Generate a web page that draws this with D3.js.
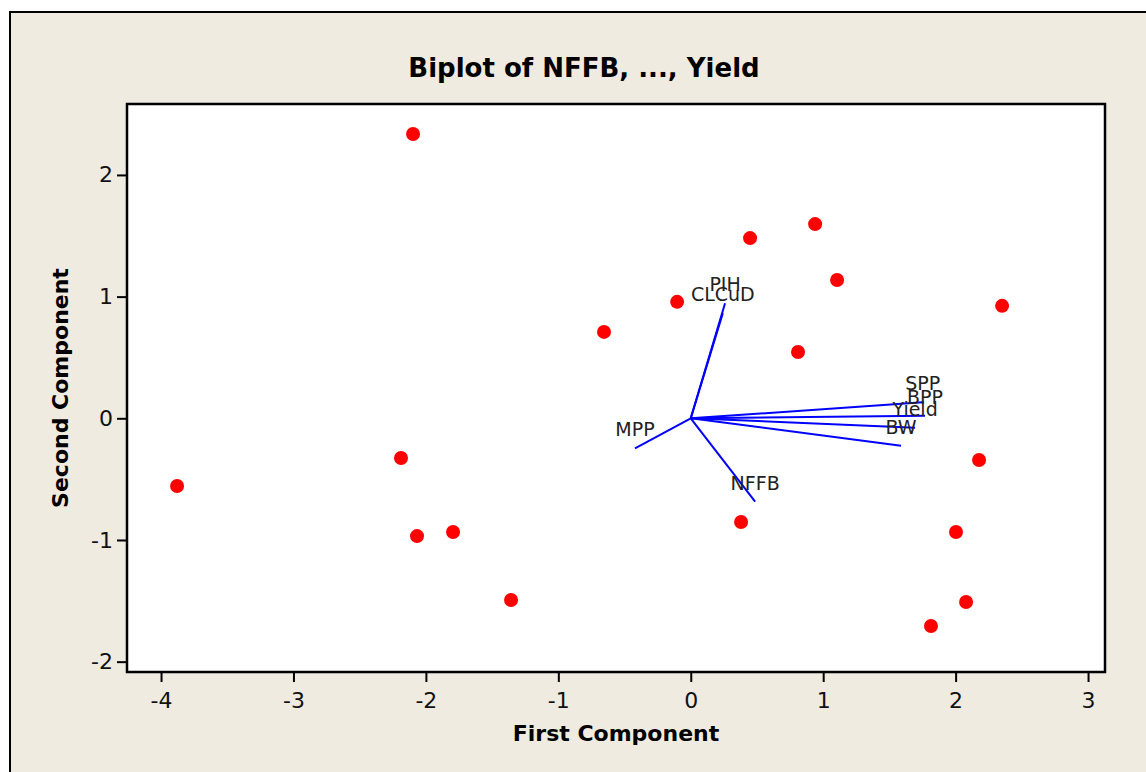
<!DOCTYPE html>
<html>
<head>
<meta charset="utf-8">
<script src="https://cdn.jsdelivr.net/npm/d3@7"></script>
<style>
  body { margin: 0; background: #fff; }
  svg { display: block; font-family: "DejaVu Sans", Verdana, sans-serif; }
</style>
</head>
<body>
<div id="chart"></div>
<script>
// scores (first and second component)
const scoreX = [-2.097, 0.448, 0.939, 1.105, -0.103, -0.655, 2.351, 0.810, -2.188,
                -3.879, 2.177, -2.067, -1.795, 0.380, 2.003, -1.357, 2.079, 1.814];
const scoreY = [2.336, 1.481, 1.596, 1.137, 0.957, 0.710, 0.924, 0.545, -0.326,
                -0.556, -0.343, -0.968, -0.935, -0.852, -0.935, -1.493, -1.510, -1.707];

// loadings
const varNames = ["SPP", "BPP", "Yield", "BW", "MPP", "NFFB", "PIH", "CLCuD"];
const loadX = [1.752, 1.769, 1.694, 1.588, -0.421, 0.486, 0.259, 0.242];
const loadY = [0.131, 0.021, -0.077, -0.225, -0.247, -0.685, 0.945, 0.863];

const xTicks = [-4, -3, -2, -1, 0, 1, 2, 3];
const yTicks = [-2, -1, 0, 1, 2];

const W = 1146, H = 772;
const frame = { left: 127, top: 104, right: 1105, bottom: 672 };

const svg = d3.select("#chart").append("svg")
  .attr("width", W)
  .attr("height", H);

// outer panel
svg.append("rect")
  .attr("x", 10).attr("y", 12)
  .attr("width", W + 20).attr("height", H + 20)
  .attr("fill", "#efebe1")
  .attr("stroke", "#000")
  .attr("stroke-width", 2);

const x = d3.scaleLinear()
  .domain([-4.257, 3.128])
  .range([frame.left, frame.right]);

const y = d3.scaleLinear()
  .domain([-2.085, 2.583])
  .range([frame.bottom, frame.top]);

// plot area
svg.append("rect")
  .attr("x", frame.left).attr("y", frame.top)
  .attr("width", frame.right - frame.left)
  .attr("height", frame.bottom - frame.top)
  .attr("fill", "#fff");

// X-axis
const gx = svg.append("g")
  .attr("transform", `translate(0,${frame.bottom})`)
  .call(d3.axisBottom(x).tickValues(xTicks).tickFormat(d => String(d)).tickSize(10).tickPadding(10));
gx.select(".domain").remove();
gx.selectAll("line").attr("stroke", "#000").attr("stroke-width", 2);
gx.selectAll("text")
  .style("font-family", "DejaVu Sans, sans-serif")
  .style("font-size", "22px")
  .attr("fill", "#111");

// Y-axis
const gy = svg.append("g")
  .attr("transform", `translate(${frame.left},0)`)
  .call(d3.axisLeft(y).tickValues(yTicks).tickFormat(d => String(d)).tickSize(10).tickPadding(4));
gy.select(".domain").remove();
gy.selectAll("line").attr("stroke", "#000").attr("stroke-width", 2);
gy.selectAll("text")
  .style("font-family", "DejaVu Sans, sans-serif")
  .style("font-size", "22px")
  .attr("fill", "#111");

// frame border
svg.append("rect")
  .attr("x", frame.left).attr("y", frame.top)
  .attr("width", frame.right - frame.left)
  .attr("height", frame.bottom - frame.top)
  .attr("fill", "none")
  .attr("stroke", "#000")
  .attr("stroke-width", 2.5);

// Points
svg.selectAll(".pt")
  .data(scoreX)
  .enter().append("circle")
  .attr("class", "pt")
  .attr("cx", d => x(d))
  .attr("cy", (d, i) => y(scoreY[i]))
  .attr("r", 7)
  .attr("fill", "#ff0000");

// Vectors
svg.selectAll(".vec")
  .data(varNames)
  .enter().append("line")
  .attr("class", "vec")
  .attr("x1", x(0)).attr("y1", y(0))
  .attr("x2", (d, i) => x(loadX[i]))
  .attr("y2", (d, i) => y(loadY[i]))
  .attr("stroke", "#0000ff")
  .attr("stroke-width", 2);

svg.selectAll(".vlab")
  .data(varNames)
  .enter().append("text")
  .attr("class", "vlab")
  .attr("x", (d, i) => x(loadX[i]))
  .attr("y", (d, i) => y(loadY[i]) - 12)
  .attr("text-anchor", "middle")
  .style("font-size", "19px")
  .attr("fill", "#222")
  .text(d => d);

// Titles
svg.append("text")
  .attr("x", 584).attr("y", 77)
  .attr("text-anchor", "middle")
  .style("font-size", "26px")
  .style("font-weight", "bold")
  .text("Biplot of NFFB, ..., Yield");

svg.append("text")
  .attr("x", (frame.left + frame.right) / 2).attr("y", 741)
  .attr("text-anchor", "middle")
  .style("font-size", "22px")
  .style("font-weight", "bold")
  .text("First Component");

svg.append("text")
  .attr("transform", `translate(68,${(frame.top + frame.bottom) / 2}) rotate(-90)`)
  .attr("text-anchor", "middle")
  .style("font-size", "22px")
  .style("font-weight", "bold")
  .text("Second Component");
</script>
</body>
</html>
